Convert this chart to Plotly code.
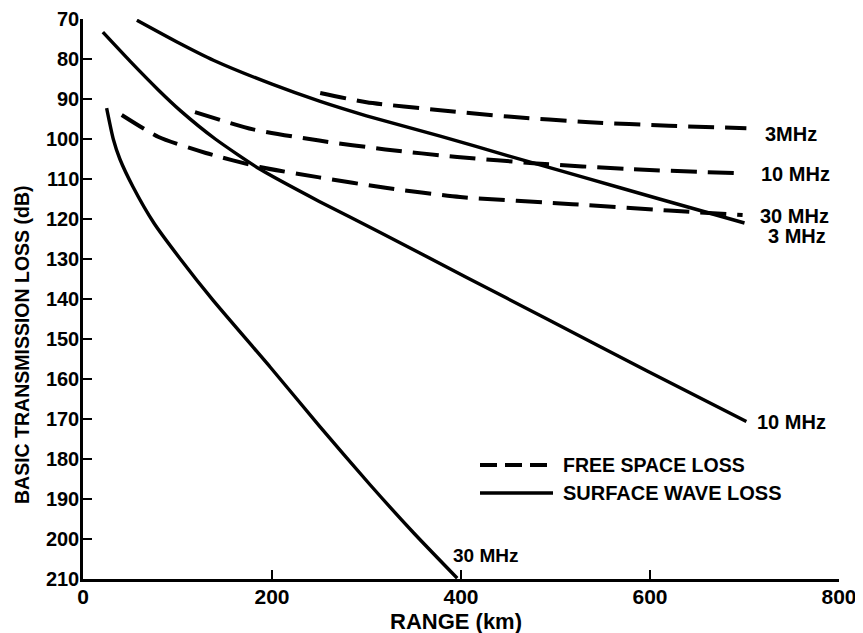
import plotly.graph_objects as go

# Surface wave loss (solid)
sw3_x = [57, 100, 138, 200, 251, 300, 378, 450, 530, 610, 700]
sw3_y = [70.3, 75.8, 80.3, 86.3, 90.6, 94.2, 99.3, 104.2, 109.6, 115.0, 121.0]
sw10_x = [21, 50, 80, 103, 140, 187, 250, 314, 406, 491, 597, 702]
sw10_y = [73.3, 80.6, 87.8, 92.9, 100.0, 107.5, 115.6, 123.3, 134.6, 145.0, 158.0, 170.6]
sw30_x = [25, 32, 39, 53, 75, 103, 137.5, 198, 250, 304, 350, 396]
sw30_y = [92.3, 100.0, 105.0, 112.0, 121.0, 130.0, 140.3, 157.0, 171.7, 186.5, 198.5, 209.8]

# Free space loss (dashed)
fs3_x = [251, 300, 378, 450, 536, 620, 702]
fs3_y = [88.5, 90.8, 92.8, 94.4, 95.8, 96.7, 97.3]
fs10_x = [118.5, 180, 250, 320, 396, 480, 575.5, 698]
fs10_y = [93.3, 97.6, 100.4, 102.6, 104.5, 106.1, 107.5, 108.6]
fs30_x = [41, 80, 130, 187, 250, 320, 399, 518, 620, 698]
fs30_y = [94.0, 99.5, 103.5, 107.0, 109.6, 112.2, 114.5, 116.3, 117.9, 119.0]

x_ticks = [0, 200, 400, 600, 800]
y_ticks = list(range(70, 211, 10))

FONT = "Liberation Sans"
OFF = 8  # page body offset
W, H = 863 - OFF, 633 - OFF
L, R, T, B = 83 - OFF, 24, 19 - OFF, 54
PW, PH = W - L - R, H - T - B

def px(x):  # screen pixel -> paper
    return (x - OFF - L) / PW

def py(y):
    return (OFF + T + PH - y) / PH

fig = go.Figure()

def add(x, y, dash):
    fig.add_trace(go.Scatter(
        x=x, y=y, mode="lines",
        line=dict(color="black", width=4 if dash else 3.4,
                  dash="26px,11px" if dash else "solid", shape="spline", smoothing=0.6),
        showlegend=False, hoverinfo="skip"))

for xs, ys in [(sw3_x, sw3_y), (sw10_x, sw10_y), (sw30_x, sw30_y)]:
    add(xs, ys, False)
for xs, ys in [(fs3_x, fs3_y), (fs10_x, fs10_y), (fs30_x, fs30_y)]:
    add(xs, ys, True)

labels = [
    (fs3_x[-1], fs3_y[-1], "3MHz", 1.5, 17),
    (fs10_x[-1], fs10_y[-1], "10 MHz", 0.2, 16),
    (fs30_x[-1], fs30_y[-1], "30 MHz", 0.2, 15),
    (sw3_x[-1], sw3_y[-1], "3 MHz", 3.2, 21),
    (sw10_x[-1], sw10_y[-1], "10 MHz", 0.2, 9),
]
for x, y, t, dy, xs in labels:
    fig.add_annotation(x=x, y=y + dy, text=f"<b>{t}</b>", showarrow=False,
                       xanchor="left", yanchor="middle",
                       xshift=xs, font=dict(family=FONT, size=20, color="black"))

def note(x, y, text, size, xanchor="left", angle=0):
    fig.add_annotation(xref="paper", yref="paper", x=px(x), y=py(y), text=f"<b>{text}</b>",
                       showarrow=False, xanchor=xanchor, yanchor="middle", textangle=angle,
                       font=dict(family=FONT, size=size, color="black"))

note(451, 555, "30 MHz", 19)
note(561, 465, "FREE SPACE LOSS", 19.5)
note(561, 493, "SURFACE WAVE LOSS", 20)
note(456, 621, "RANGE (km)", 22, xanchor="center")
note(22, 345, "BASIC TRANSMISSION LOSS (dB)", 19.5, xanchor="center", angle=-90)

# legend samples
fig.add_shape(type="line", xref="paper", yref="paper", x0=px(480), x1=px(550),
              y0=py(465), y1=py(465),
              line=dict(color="black", width=4, dash="17px,8px"))
fig.add_shape(type="line", xref="paper", yref="paper", x0=px(480), x1=px(553),
              y0=py(493), y1=py(493),
              line=dict(color="black", width=3.4))

fig.update_layout(
    width=W, height=H,
    margin=dict(l=L, r=R, t=T, b=B),
    paper_bgcolor="white", plot_bgcolor="white",
    font=dict(family=FONT, color="black"),
    xaxis=dict(range=[0, 800], tickvals=x_ticks, ticktext=[f"<b>{v}</b>" for v in x_ticks],
               showgrid=False, zeroline=False, showline=True, linecolor="black", linewidth=2.5,
               ticks="inside", ticklen=9, tickwidth=2.2, tickcolor="black", automargin=False,
               ticklabelstandoff=-3,
               tickfont=dict(family=FONT, size=21, color="black")),
    yaxis=dict(range=[210, 70], tickvals=y_ticks, ticktext=[f"<b>{v}</b>" for v in y_ticks],
               showgrid=False, zeroline=False, showline=True, linecolor="black", linewidth=2.5,
               ticks="inside", ticklen=9, tickwidth=2.2, tickcolor="black", automargin=False,
               ticklabelstandoff=-3,
               tickfont=dict(family=FONT, size=20, color="black")),
)

fig.write_html("out.html")
